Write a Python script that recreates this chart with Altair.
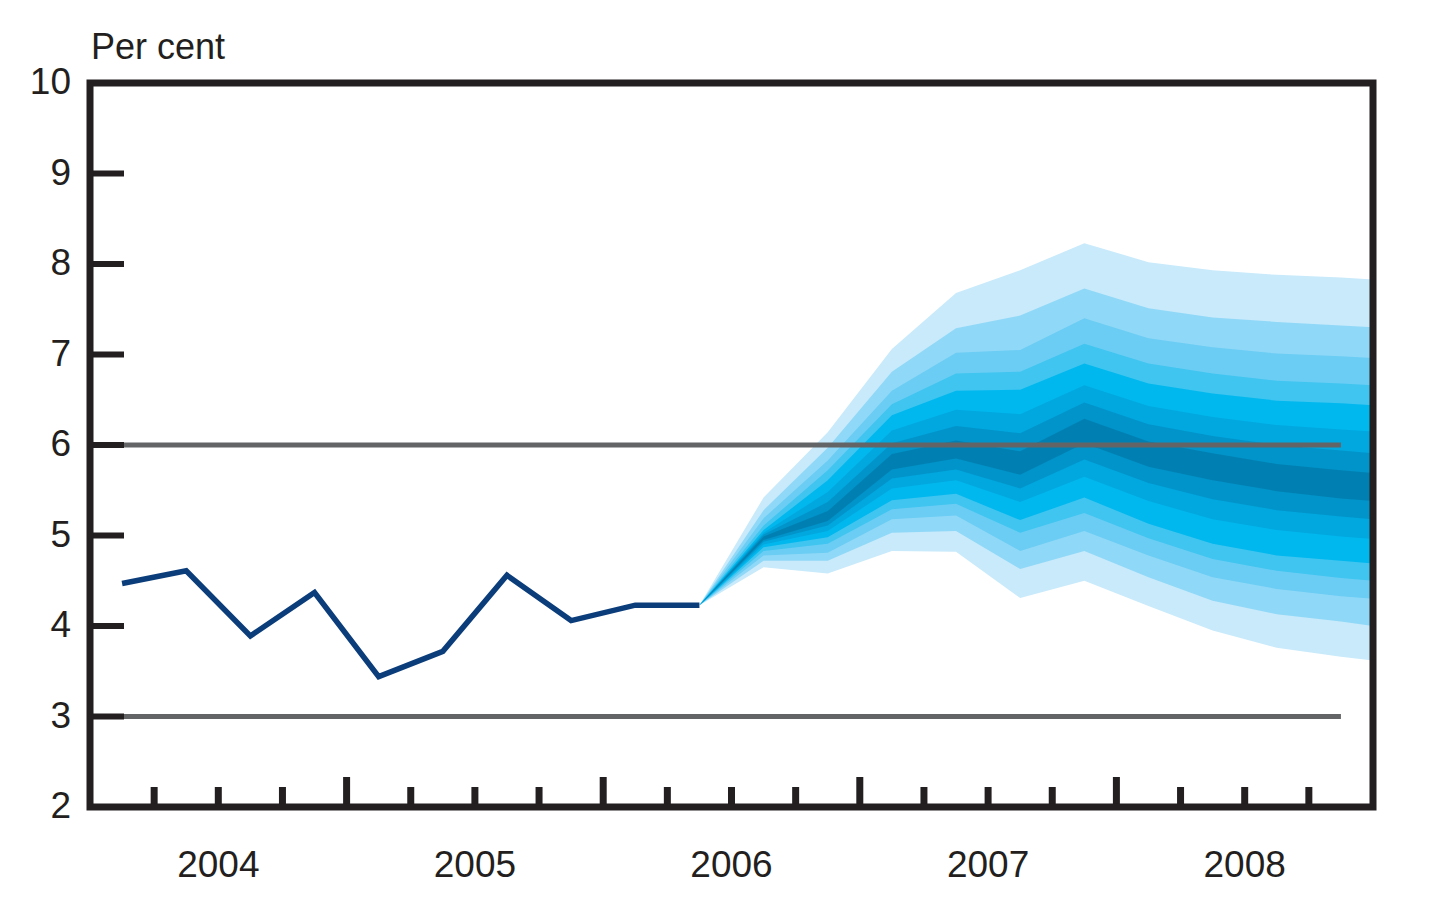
import altair as alt
import pandas as pd

W, H = 1283, 724
FONT = "Liberation Sans, Arial, sans-serif"
INK = "#231f20"

# ---------------- data ----------------
year_labels = ["2004", "2005", "2006", "2007", "2008"]
year_mid = [2004.5, 2005.5, 2006.5, 2007.5, 2008.5]

obs_t = [2004.125, 2004.375, 2004.625, 2004.875, 2005.125,
         2005.375, 2005.625, 2005.875, 2006.125, 2006.375]
obs_v = [4.47, 4.61, 3.89, 4.37, 3.44, 3.72, 4.56, 4.06, 4.23, 4.23]

fan_t = [2006.375, 2006.625, 2006.875, 2007.125, 2007.375, 2007.625,
         2007.875, 2008.125, 2008.375, 2008.625, 2008.875, 2009.0]

# outer (lightest) to inner (darkest) bands: upper and lower edges
up1 = [4.23, 5.42, 6.14, 7.06, 7.68, 7.93, 8.23, 8.02, 7.93, 7.88, 7.85, 7.83]
up2 = [4.23, 5.28, 5.97, 6.81, 7.29, 7.43, 7.73, 7.51, 7.41, 7.36, 7.32, 7.30]
up3 = [4.23, 5.19, 5.83, 6.60, 7.02, 7.05, 7.40, 7.18, 7.08, 7.01, 6.98, 6.96]
up4 = [4.23, 5.11, 5.72, 6.45, 6.79, 6.81, 7.12, 6.90, 6.79, 6.71, 6.68, 6.66]
up5 = [4.23, 5.06, 5.61, 6.33, 6.60, 6.61, 6.90, 6.68, 6.57, 6.49, 6.46, 6.44]
up6 = [4.23, 5.03, 5.48, 6.16, 6.39, 6.34, 6.66, 6.43, 6.31, 6.22, 6.17, 6.15]
up7 = [4.23, 5.01, 5.37, 6.02, 6.21, 6.13, 6.47, 6.23, 6.10, 6.00, 5.94, 5.91]
up8 = [4.23, 4.99, 5.27, 5.90, 6.05, 5.93, 6.29, 6.04, 5.91, 5.79, 5.72, 5.69]

lo8 = [4.23, 4.95, 5.16, 5.73, 5.85, 5.67, 6.02, 5.76, 5.61, 5.49, 5.41, 5.38]
lo7 = [4.23, 4.93, 5.11, 5.63, 5.73, 5.52, 5.84, 5.58, 5.40, 5.28, 5.21, 5.18]
lo6 = [4.23, 4.90, 5.05, 5.52, 5.61, 5.37, 5.65, 5.38, 5.18, 5.06, 4.99, 4.96]
lo5 = [4.23, 4.87, 4.98, 5.39, 5.46, 5.17, 5.42, 5.13, 4.91, 4.78, 4.72, 4.69]
lo4 = [4.23, 4.83, 4.91, 5.29, 5.35, 5.03, 5.25, 4.97, 4.74, 4.61, 4.53, 4.50]
lo3 = [4.23, 4.78, 4.81, 5.18, 5.22, 4.83, 5.05, 4.78, 4.54, 4.41, 4.33, 4.30]
lo2 = [4.23, 4.72, 4.72, 5.03, 5.05, 4.63, 4.83, 4.54, 4.28, 4.13, 4.05, 4.00]
lo1 = [4.23, 4.65, 4.58, 4.83, 4.82, 4.31, 4.50, 4.22, 3.95, 3.76, 3.66, 3.62]

band_colors = ["#c8eafb", "#90d8f7", "#6bcdf4", "#3fc5f0",
               "#00b8ee", "#00a8df", "#0094ca", "#0080b2"]

y_values = [2, 3, 4, 5, 6, 7, 8, 9, 10]
y_labels = ["2", "3", "4", "5", "6", "7", "8", "9", "10"]
y_ticks = [3, 4, 5, 6, 7, 8, 9]
minor_ticks = [2004.25, 2004.5, 2004.75, 2005.25, 2005.5, 2005.75,
               2006.25, 2006.5, 2006.75, 2007.25, 2007.5, 2007.75,
               2008.25, 2008.5, 2008.75]
major_ticks = [2005, 2006, 2007, 2008]
ref_levels = [6, 3]
ref_start, ref_end = 2004.125, 2008.875

# ---------------- chart ----------------
xs = alt.Scale(domain=[2004, 2009], nice=False, zero=False)
ys = alt.Scale(domain=[2, 10], nice=False, zero=False)

layers = []
uppers = [up1, up2, up3, up4, up5, up6, up7, up8]
lowers = [lo1, lo2, lo3, lo4, lo5, lo6, lo7, lo8]
for u, l, c in zip(uppers, lowers, band_colors):
    df = pd.DataFrame({"t": fan_t, "lo": l, "hi": u})
    layers.append(
        alt.Chart(df).mark_area(color=c, opacity=1, interpolate="linear").encode(
            x=alt.X("t:Q", scale=xs, axis=None),
            y=alt.Y("lo:Q", scale=ys, axis=None),
            y2="hi:Q",
        )
    )

obs_df = pd.DataFrame({"t": obs_t, "v": obs_v})
layers.append(
    alt.Chart(obs_df).mark_line(color="#0b3d7b", strokeWidth=5.5, strokeJoin="miter").encode(
        x=alt.X("t:Q", scale=xs, axis=None),
        y=alt.Y("v:Q", scale=ys, axis=None),
    )
)

ref_df = pd.DataFrame({"v": ref_levels, "a": [ref_start] * 2, "b": [ref_end] * 2})
layers.append(
    alt.Chart(ref_df).mark_rule(color="#636466", strokeWidth=5).encode(
        x=alt.X("a:Q", scale=xs, axis=None),
        x2="b:Q",
        y=alt.Y("v:Q", scale=ys, axis=None),
    )
)

yt_df = pd.DataFrame({"v": y_ticks})
layers.append(
    alt.Chart(yt_df).mark_rule(color=INK, strokeWidth=6).encode(
        y=alt.Y("v:Q", scale=ys, axis=None),
        x=alt.value(0),
        x2=alt.value(34),
    )
)

mt_df = pd.DataFrame({"t": minor_ticks})
layers.append(
    alt.Chart(mt_df).mark_rule(color=INK, strokeWidth=7).encode(
        x=alt.X("t:Q", scale=xs, axis=None),
        y=alt.value(H),
        y2=alt.value(H - 20),
    )
)

Mt_df = pd.DataFrame({"t": major_ticks})
layers.append(
    alt.Chart(Mt_df).mark_rule(color=INK, strokeWidth=7).encode(
        x=alt.X("t:Q", scale=xs, axis=None),
        y=alt.value(H),
        y2=alt.value(H - 30),
    )
)

frame_df = pd.DataFrame({"k": [0]})
layers.append(
    alt.Chart(frame_df).mark_rect(filled=False, stroke=INK, strokeWidth=7).encode(
        x=alt.value(0), x2=alt.value(W), y=alt.value(0), y2=alt.value(H)
    )
)

ylab_df = pd.DataFrame({"v": y_values, "label": y_labels})
layers.append(
    alt.Chart(ylab_df).mark_text(font=FONT, fontSize=37, color=INK,
                                 baseline="middle", align="right").encode(
        y=alt.Y("v:Q", scale=ys, axis=None),
        x=alt.value(-19),
        text="label:N",
    )
)

yl_df = pd.DataFrame({"t": year_mid, "label": year_labels})
layers.append(
    alt.Chart(yl_df).mark_text(font=FONT, fontSize=37, color=INK,
                               baseline="alphabetic", align="center").encode(
        x=alt.X("t:Q", scale=xs, axis=None),
        y=alt.value(794),
        text="label:N",
    )
)

title_df = pd.DataFrame({"label": ["Per cent"]})
layers.append(
    alt.Chart(title_df).mark_text(font=FONT, fontSize=36, color=INK,
                                  baseline="alphabetic", align="left").encode(
        x=alt.value(1),
        y=alt.value(-24),
        text="label:N",
    )
)

chart = alt.layer(*layers).properties(
    width=W,
    height=H,
    padding={"left": 82, "top": 75, "right": 60, "bottom": 85},
    autosize=alt.AutoSizeParams(type="none"),
    background="white",
).configure_view(stroke="transparent")

chart.save("out.html", embed_options={"renderer": "svg", "actions": False})
